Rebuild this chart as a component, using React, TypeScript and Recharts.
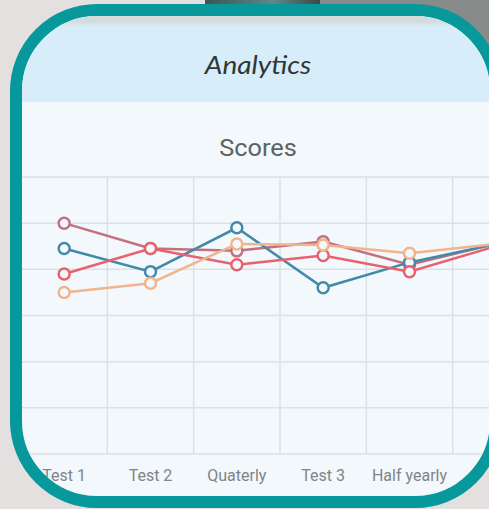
import React from "react";
import { LineChart, Line, XAxis, YAxis, CartesianGrid } from "recharts";

const categories = ["Test 1", "Test 2", "Quaterly", "Test 3", "Half yearly", "Annual"];
const seriesMauve = [100, 89, 88, 92, 82, 91];
const seriesBlue = [89, 79, 98, 72, 83, 91];
const seriesRed = [78, 89, 82, 86, 79, 90];
const seriesOrange = [70, 74, 91, 90.5, 87, 91];
const yTicks = [0, 20, 40, 60, 80, 100, 120];
const labelTicks = [0, 1, 2, 3, 4];
const boundaryTicks = [0.5, 1.5, 2.5, 3.5, 4.5];

const data = categories.map((c, i) => ({
  x: i,
  name: c,
  mauve: seriesMauve[i],
  blue: seriesBlue[i],
  red: seriesRed[i],
  orange: seriesOrange[i],
}));

const BODY = "#f2f8fc";

const dotStyle = (color: string) => ({ r: 5.5, stroke: color, strokeWidth: 2.5, fill: BODY });

export default function App() {
  return (
    <div
      style={{
        position: "absolute",
        left: 0,
        top: 0,
        width: 489,
        height: 509,
        overflow: "hidden",
        background: "#e4e0df",
        fontFamily: "Roboto, sans-serif",
      }}
    >
      <div style={{ position: "absolute", left: 315, top: 0, width: 174, height: 140, background: "#878b8a" }} />
      <div
        style={{
          position: "absolute",
          left: 205,
          top: 0,
          width: 115,
          height: 6,
          background: "linear-gradient(to right, #3b5656, #5c8a88 60%, #3e4646)",
        }}
      />
      <div
        style={{
          position: "absolute",
          left: 10,
          top: 4,
          width: 468,
          height: 480,
          border: "12px solid #06989b",
          borderRadius: 87,
          overflow: "hidden",
          background: BODY,
        }}
      >
        <div
          style={{
            position: "absolute",
            left: 0,
            top: 0,
            width: 468,
            height: 86,
            background: "linear-gradient(to bottom, #d3dbdb 0px, #d3dbdb 5px, #d7edf9 11px)",
          }}
        />
        <div
          style={{
            position: "absolute",
            left: 0,
            top: 33,
            width: 472,
            textAlign: "center",
            fontFamily: "Lato, sans-serif",
            fontStyle: "italic",
            fontSize: 25,
            color: "#2d3836",
            transform: "scaleX(1.12)",
          }}
        >
          Analytics
        </div>
        <div
          style={{
            position: "absolute",
            left: 0,
            top: 119,
            width: 472,
            textAlign: "center",
            fontFamily: "Roboto, sans-serif",
            fontSize: 23,
            color: "#5c6462",
            transform: "scaleX(1.1)",
          }}
        >
          Scores
        </div>
        <div style={{ position: "absolute", left: -1, top: 151 }}>
          <LineChart width={540} height={327} data={data} margin={{ top: 10, right: 22, bottom: 0, left: 0 }}>
            <CartesianGrid xAxisId="b" stroke="#dae2e6" strokeWidth={1.5} />
            <XAxis
              xAxisId="b"
              dataKey="x"
              type="number"
              domain={[-0.5, 5.5]}
              ticks={boundaryTicks}
              height={0}
              tickSize={6}
              tickFormatter={() => ""}
              axisLine={{ stroke: "#d3dbdf", strokeWidth: 1.5 }}
              tickLine={{ stroke: "#cdd5d9", strokeWidth: 1.5 }}
              allowDataOverflow
            />
            <XAxis
              xAxisId="l"
              dataKey="x"
              type="number"
              domain={[-0.5, 5.5]}
              ticks={labelTicks}
              interval={0}
              height={40}
              tickLine={false}
              axisLine={false}
              tickSize={0}
              tickMargin={16}
              tickFormatter={(i: number) => categories[i]}
              tick={{ fill: "#808585", fontSize: 16, fontFamily: "Roboto, sans-serif" }}
              allowDataOverflow
            />
            <YAxis hide domain={[0, 120]} ticks={yTicks} />
            <Line xAxisId="b" dataKey="mauve" stroke="#c4707f" strokeWidth={2.5} dot={dotStyle("#c4707f")} isAnimationActive={false} />
            <Line xAxisId="b" dataKey="blue" stroke="#4389a8" strokeWidth={2.5} dot={dotStyle("#4389a8")} isAnimationActive={false} />
            <Line xAxisId="b" dataKey="red" stroke="#e8626d" strokeWidth={2.5} dot={dotStyle("#e8626d")} isAnimationActive={false} />
            <Line xAxisId="b" dataKey="orange" stroke="#f2b48a" strokeWidth={2.5} dot={dotStyle("#f2b48a")} isAnimationActive={false} />
          </LineChart>
        </div>
      </div>
    </div>
  );
}
